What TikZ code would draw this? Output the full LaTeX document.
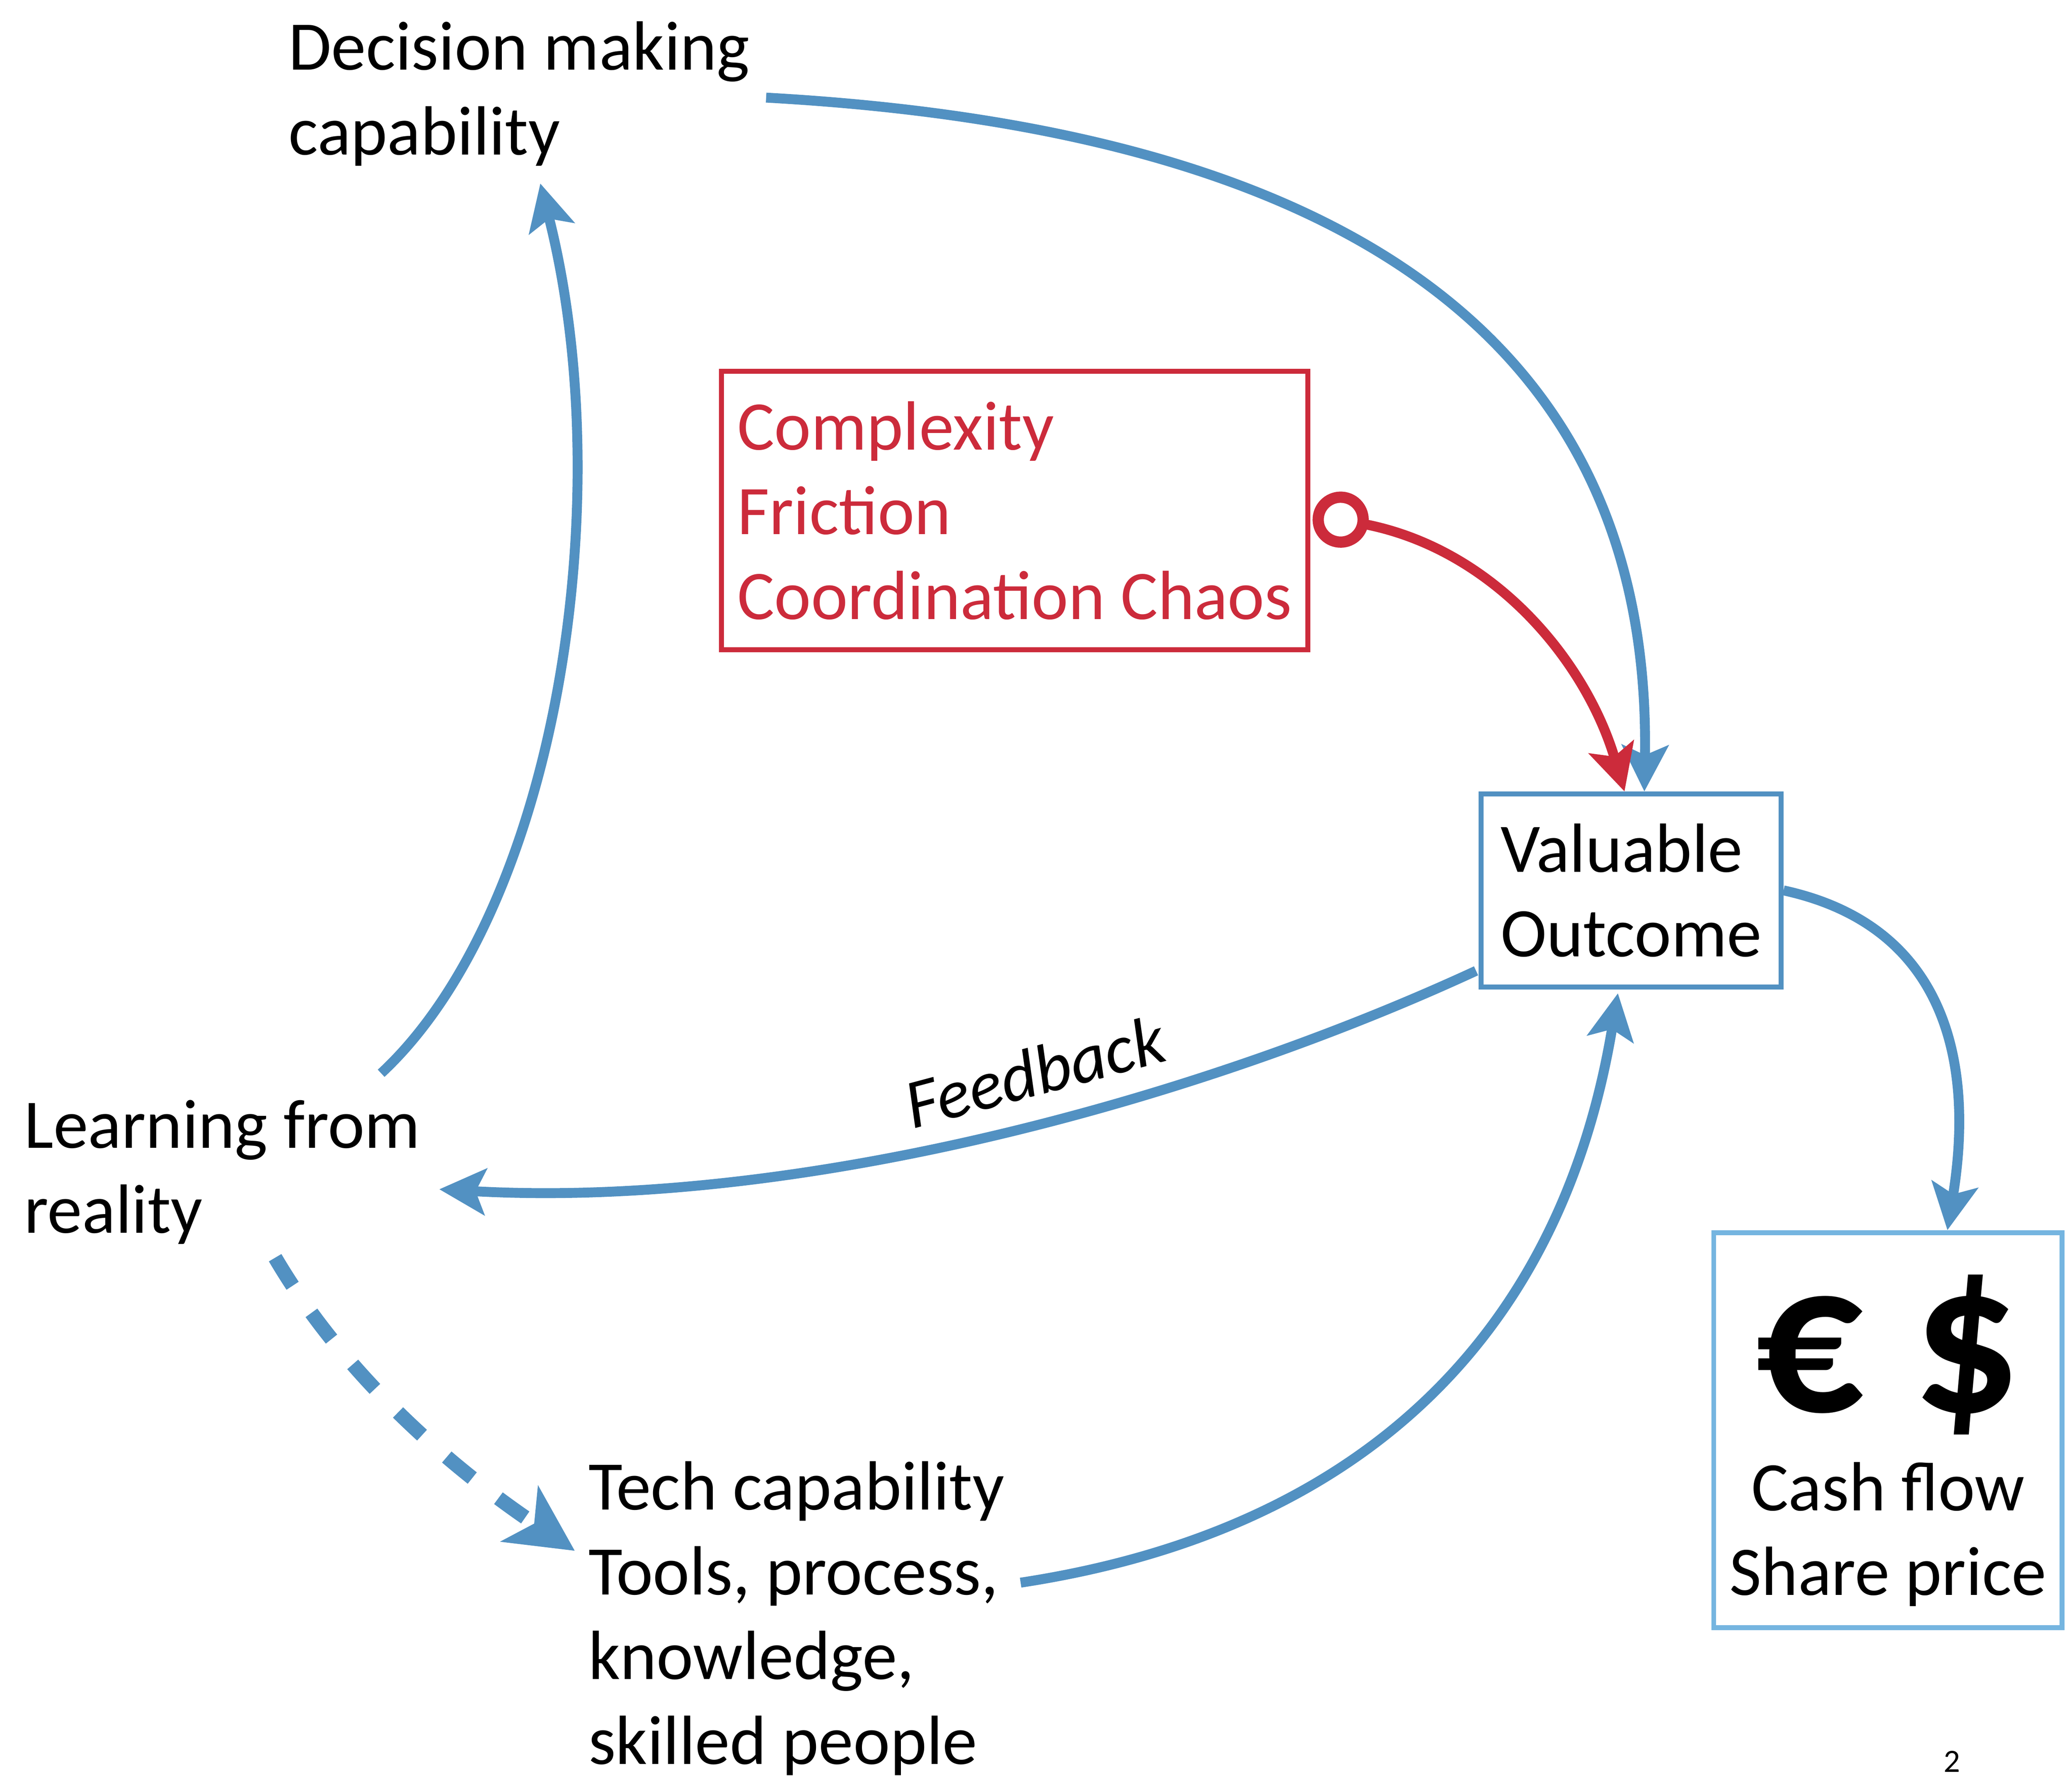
\documentclass[tikz,border=0pt]{standalone}
\usepackage{fontspec}
\setmainfont{Carlito}
\usetikzlibrary{arrows.meta,calc}
\definecolor{flowblue}{RGB}{82,145,194}
\definecolor{chaosred}{RGB}{204,43,59}
\definecolor{cashblue}{RGB}{117,181,224}
\tikzset{
  txt/.style={font=\fontsize{30}{36.5}\selectfont, align=left, inner sep=0pt, anchor=base west},
  boxed/.style={draw, line width=0.75mm, inner xsep=0.24cm, inner ysep=0pt, align=left},
  flow/.style={line width=1.5mm, color=flowblue, -{Stealth[length=7mm,width=7mm,inset=1.5mm]}},
}
\begin{document}
\begin{tikzpicture}[x=0.02cm, y=-0.02cm]
			%%%%% FRAME %%%%%
			\useasboundingbox (0, 0) rectangle (1568, 1344);
			
			\node[txt] (decision) at (218, 117) {Decision making\\capability};
			\node[txt] (learning) at (18, 933) {Learning from\\reality};
			\node[txt] (tech) at (445, 1335) {Tech capability\\Tools, process,\\knowledge,\\skilled people};
			
			\node[txt, boxed, draw=chaosred, text=chaosred, anchor=north west, minimum width=8.88cm, minimum height=4.22cm] (chaos) at (544, 279) {Complexity\\Friction\\Coordination Chaos};
			\node[txt, boxed, draw=flowblue, anchor=north west, minimum width=4.54cm, minimum height=2.92cm] (valuable) at (1119, 599) {Valuable\\Outcome};
			\node[txt, boxed, draw=cashblue, align=center, anchor=north west, minimum width=5.2cm, minimum height=5.98cm] (cash) at (1295, 931) {{\fontsize{92}{96}\selectfont\bfseries\rule{0pt}{68pt}€ \$}\\[6pt]Cash flow\\Share price};
			
			\node[txt, font=\fontsize{30}{36}\selectfont\itshape, rotate=15, anchor=center] (feedback) at (783, 811) {Feedback};
			\node[font=\fontsize{14}{16}\selectfont, inner sep=0pt, anchor=base] (pagenum) at (1477, 1341) {2};
			
			%%%%% LINKS %%%%%
			\draw[flow] ($(decision.east)+(12, 3)$) .. controls (1050, 100) and (1250, 280) .. ($(valuable.north)+(10, 0)$);
			\draw[line width=1.5mm, color=chaosred, {Circle[open, length=8.5mm, line width=1.7mm]}-{Stealth[length=7mm,width=7mm,inset=1.5mm]}] ($(chaos.east)+(2, 3)$) .. controls (1130, 415) and (1200, 500) .. ($(valuable.north)+(-5, 0)$);
			\draw[flow] (valuable.east) .. controls (1470, 700) and (1495, 800) .. ($(cash.north)+(45, 0)$);
			\draw[flow] ($(valuable.south west)+(-2, -14)$) .. controls (900, 835) and (600, 915) .. ($(learning.east)+(14, 13)$);
			\draw[flow] ($(learning.north east)+(-30, -20)$) .. controls (420, 690) and (470, 380) .. ($(decision.south)+(16, 13)$);
			\draw[flow] ($(tech.east)+(12, -27)$) .. controls (1020, 1160) and (1180, 1020) .. ($(valuable.south)+(-10, 3)$);
			\draw[line width=2.2mm, color=flowblue, dash pattern=on 0.5cm off 0.5cm, -{Stealth[length=1cm,width=1cm,inset=0.26cm]}] ($(learning.south)+(40, 10)$) .. controls (260, 1040) and (340, 1110) .. ($(tech.north west)+(-10, 68)$);
			
		\end{tikzpicture}
\end{document}
